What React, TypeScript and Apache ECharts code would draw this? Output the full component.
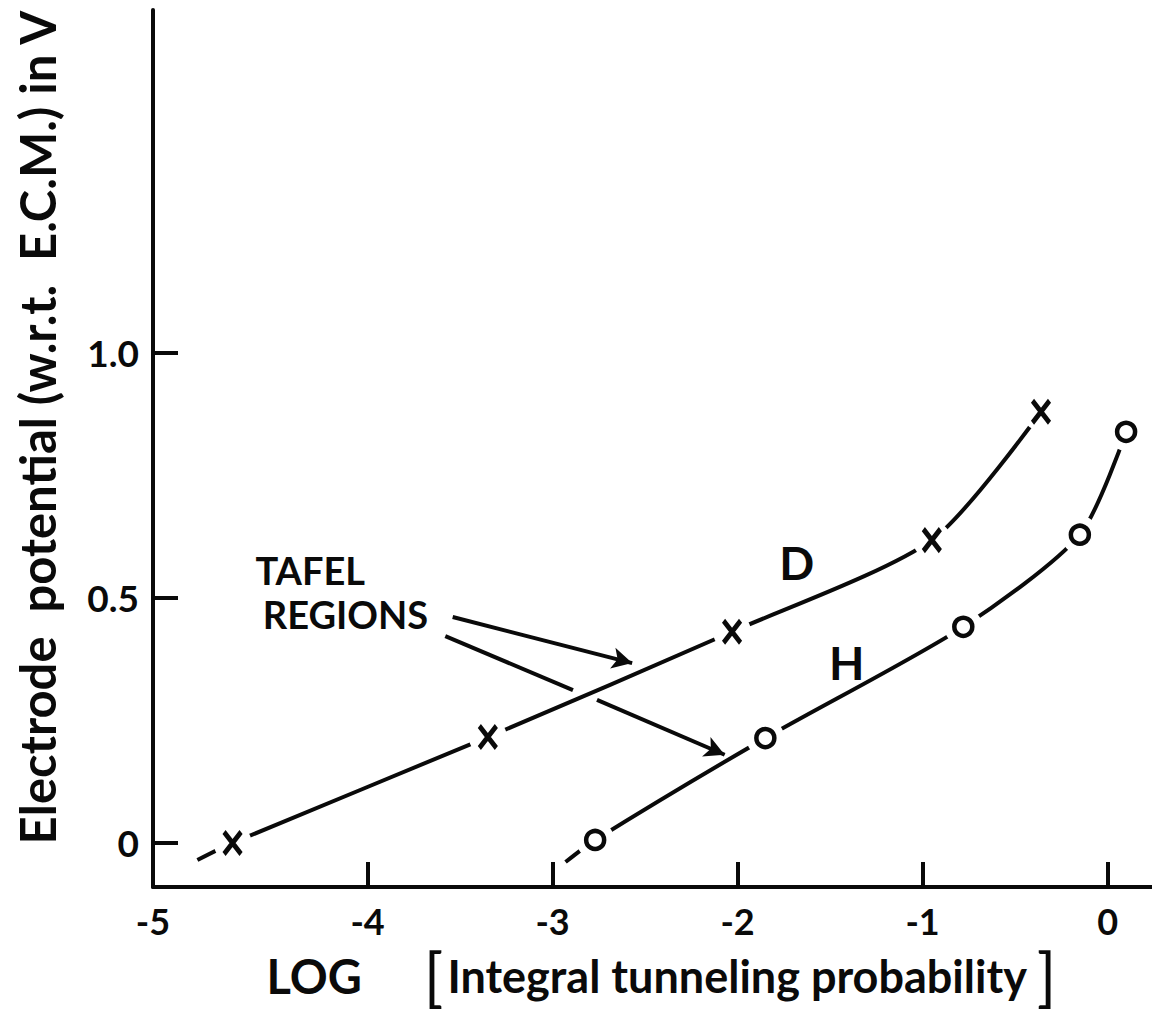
import React, { useEffect, useRef } from "react";
import * as echarts from "echarts";

// Axis extents (x axis starts at the y axis, labelled "-5" at the corner)
const xMin = -5.16;
const xMax = 0.24;
const yMin = -0.09;
const yMax = 1.7;

const xTickValues = [-4, -3, -2, -1, 0];
const yTickValues = [0, 0.5, 1.0];

// D series (x markers)
const dMarkerX = [-4.73, -3.35, -2.03, -0.95, -0.36];
const dMarkerY = [0.0, 0.216, 0.431, 0.618, 0.88];
const dLineStart = [-4.92, -0.035];

// H series (o markers)
const hMarkerX = [-2.77, -1.85, -0.78, -0.15, 0.1];
const hMarkerY = [0.006, 0.214, 0.441, 0.629, 0.839];
const hLineStart = [-2.93, -0.039];

// Annotations (data coordinates)
const arrow1 = [[-3.54, 0.461], [-2.57, 0.367]];
const arrow2a = [[-3.58, 0.422], [-2.89, 0.312]];
const arrow2b = [[-2.76, 0.292], [-2.07, 0.18]];
const labelD = [-1.68, 0.573];
const labelH = [-1.41, 0.369];
const labelTafel = [-4.31, 0.557];
const labelRegions = [-4.12, 0.467];

const FONT = "Lato";
const INK = "#0a0a0a";

export default function App() {
  const ref = useRef<HTMLDivElement>(null);

  useEffect(() => {
    if (!ref.current) return;
    const chart = echarts.init(ref.current, null, { renderer: "svg" });

    const dMarkers = dMarkerX.map((x, i) => [x, dMarkerY[i]]);
    const hMarkers = hMarkerX.map((x, i) => [x, hMarkerY[i]]);
    const dCurve = [dLineStart, ...dMarkers];
    const hCurve = [hLineStart, ...hMarkers];

    const textLabel = (name: string, coord: number[], size: number) => ({
      name,
      coord,
      symbol: "circle",
      symbolSize: 0,
      label: {
        show: true,
        position: "inside",
        formatter: name,
        color: INK,
        fontFamily: FONT,
        fontWeight: "bold",
        fontSize: size,
      },
    });

    chart.setOption({
      animation: false,
      backgroundColor: "#ffffff",
      grid: {
        left: 153,
        right: 0,
        top: 10,
        bottom: 136,
        containLabel: false,
        outerBoundsMode: "none",
      },
      xAxis: {
        type: "value",
        min: xMin,
        max: xMax,
        splitLine: { show: false },
        axisLine: { show: true, onZero: false, lineStyle: { color: INK, width: 4 } },
        axisTick: {
          show: true,
          inside: true,
          length: 25,
          customValues: xTickValues,
          lineStyle: { color: INK, width: 4 },
        },
        axisLabel: {
          show: true,
          customValues: [xMin, ...xTickValues],
          formatter: (v: number) => (v === xMin ? "-5" : String(Math.round(v))),
          margin: 16,
          color: INK,
          fontFamily: FONT,
          fontWeight: "bold",
          fontSize: 36,
        },
        name:
          "{a|LOG}{sp| }{br|[}{t|Integral tunneling probability}{br|]}",
        nameLocation: "middle",
        nameGap: 54,
        nameTextStyle: {
          padding: [0, 0, 0, 18],
          rich: {
            a: { fontFamily: FONT, fontWeight: "bold", fontSize: 47, color: INK },
            sp: { width: 62 },
            br: { fontFamily: FONT, fontWeight: "normal", fontSize: 64, color: INK },
            t: { fontFamily: FONT, fontWeight: "bold", fontSize: 45, color: INK, padding: [0, 10, 0, 4] },
          },
        },
      },
      yAxis: {
        type: "value",
        min: yMin,
        max: yMax,
        splitLine: { show: false },
        axisLine: { show: true, onZero: false, lineStyle: { color: INK, width: 4 } },
        axisTick: {
          show: true,
          inside: true,
          length: 25,
          customValues: yTickValues,
          lineStyle: { color: INK, width: 4 },
        },
        axisLabel: {
          show: true,
          customValues: yTickValues,
          formatter: (v: number) => (v === 0 ? "0" : v.toFixed(1)),
          margin: 14,
          color: INK,
          fontFamily: FONT,
          fontWeight: "bold",
          fontSize: 37,
        },
        name: "Electrode  potential (w.r.t.  E.C.M.) in V",
        nameLocation: "middle",
        nameGap: 92,
        nameRotate: 90,
        nameTextStyle: {
          fontFamily: FONT,
          fontWeight: "bold",
          fontSize: 49,
          color: INK,
          padding: [0, 0, 0, 42],
        },
      },
      series: [
        {
          name: "D",
          type: "line",
          data: dCurve,
          smooth: 0.25,
          symbol: "none",
          lineStyle: { color: INK, width: 4 },
          z: 2,
          silent: true,
          markLine: {
            silent: true,
            symbol: ["none", "arrow"],
            symbolSize: [16, 20],
            lineStyle: { color: INK, width: 4, type: "solid" },
            label: { show: false },
            data: [
              [{ coord: arrow1[0] }, { coord: arrow1[1] }],
              [
                { coord: arrow2a[0], symbol: "none" },
                { coord: arrow2a[1], symbol: "none" },
              ],
              [{ coord: arrow2b[0] }, { coord: arrow2b[1] }],
            ],
          },
          markPoint: {
            silent: true,
            data: [
              textLabel("D", labelD, 46),
              textLabel("H", labelH, 46),
              textLabel("TAFEL", labelTafel, 38),
              textLabel("REGIONS", labelRegions, 38),
            ],
          },
        },
        {
          name: "H",
          type: "line",
          data: hCurve,
          smooth: 0.25,
          symbol: "none",
          lineStyle: { color: INK, width: 4 },
          z: 2,
          silent: true,
        },
        {
          name: "gap",
          type: "scatter",
          data: [...dMarkers, ...hMarkers],
          symbol: "circle",
          symbolSize: 38,
          itemStyle: { color: "#ffffff", opacity: 1 },
          z: 3,
          silent: true,
        },
        {
          name: "D markers",
          type: "scatter",
          data: dMarkers,
          symbol: "path://M0,0L16,21M16,0L0,21",
          symbolSize: [17, 22],
          itemStyle: { color: "none", borderColor: INK, borderWidth: 5, opacity: 1 },
          z: 4,
          silent: true,
        },
        {
          name: "H markers",
          type: "scatter",
          data: hMarkers,
          symbol: "circle",
          symbolSize: 18,
          itemStyle: { color: "#ffffff", borderColor: INK, borderWidth: 4.5, opacity: 1 },
          z: 4,
          silent: true,
        },
      ],
    });

    return () => chart.dispose();
  }, []);

  return (
    <div
      ref={ref}
      style={{ position: "fixed", left: 0, top: 0, width: 1152, height: 1023, background: "#fff" }}
    />
  );
}
